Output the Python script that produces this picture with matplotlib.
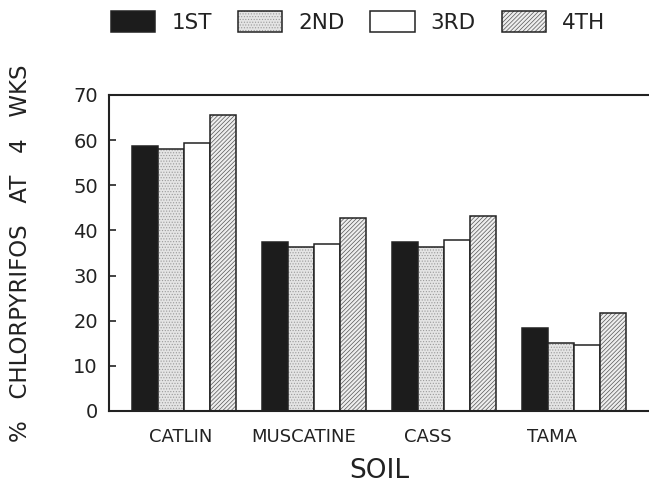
import numpy as np
import matplotlib
matplotlib.use("Agg")
import matplotlib.pyplot as plt
from matplotlib.legend_handler import HandlerTuple

soils = ["CATLIN", "MUSCATINE", "CASS", "TAMA"]
series_names = ["1ST", "2ND", "3RD", "4TH"]
first = [58.7, 37.5, 37.5, 18.3]
second = [58.0, 36.4, 36.4, 15.0]
third = [59.3, 37.0, 37.9, 14.6]
fourth = [65.6, 42.8, 43.2, 21.6]
yticks = [0, 10, 20, 30, 40, 50, 60, 70]

INK = "#222222"
plt.rcParams["font.family"] = ["DejaVu Sans"]
plt.rcParams["hatch.linewidth"] = 0.5

fig = plt.figure(figsize=(6.49, 4.83), dpi=100)
ax = fig.add_axes([109 / 649, 1 - 411 / 483, 1 - 109 / 649, (411 - 95) / 483])

x = np.arange(len(soils))
w = 0.2
# (face colour, hatch, hatch colour)
styles = [
    ("#1c1c1c", None, "#1c1c1c"),
    ("#e4e4e4", "......", "#9a9a9a"),
    ("white", None, "white"),
    ("#eeeeee", "////////", "#555555"),
]
handles = []
for i, (vals, st) in enumerate(zip([first, second, third, fourth], styles)):
    face, hatch, hcol = st
    pos = x + (i - 1.5) * w
    fill = ax.bar(pos, vals, width=w, facecolor=face, hatch=hatch,
                  edgecolor=hcol, linewidth=0)
    outline = ax.bar(pos, vals, width=w, fill=False, edgecolor=INK, linewidth=1.1)
    handles.append((fill[0], outline[0]))

ax.set_xlim(-0.58, 3.58)
ax.set_ylim(0, 70)
ax.set_yticks(yticks)
ax.tick_params(axis="y", direction="in", length=5, width=1.2, labelsize=14,
               pad=8, colors=INK)
# category labels drift a bit left of the bar groups in the original
ax.set_xticks(x - 0.03 - 0.047 * x)
ax.set_xticklabels(soils, fontsize=13, color=INK)
ax.tick_params(axis="x", length=0, pad=12)
for side in ["left", "top", "bottom"]:
    ax.spines[side].set_linewidth(1.5)
    ax.spines[side].set_color(INK)
ax.spines["right"].set_visible(False)

ax.set_xlabel("SOIL", fontsize=19, color=INK, labelpad=9)
ax.set_ylabel("%   CHLORPYRIFOS   AT   4   WKS", fontsize=16.5, color=INK)
ax.yaxis.set_label_coords(-0.142, 0.5)

fig.legend(handles, series_names, handler_map={tuple: HandlerTuple(ndivide=1)},
           loc="center", bbox_to_anchor=(0.552, 0.954), ncol=4, frameon=False,
           fontsize=15.5, handlelength=2.05, handleheight=1.07, handletextpad=0.75,
           columnspacing=1.2, labelcolor=INK)

fig.savefig("out.png", dpi=100)
